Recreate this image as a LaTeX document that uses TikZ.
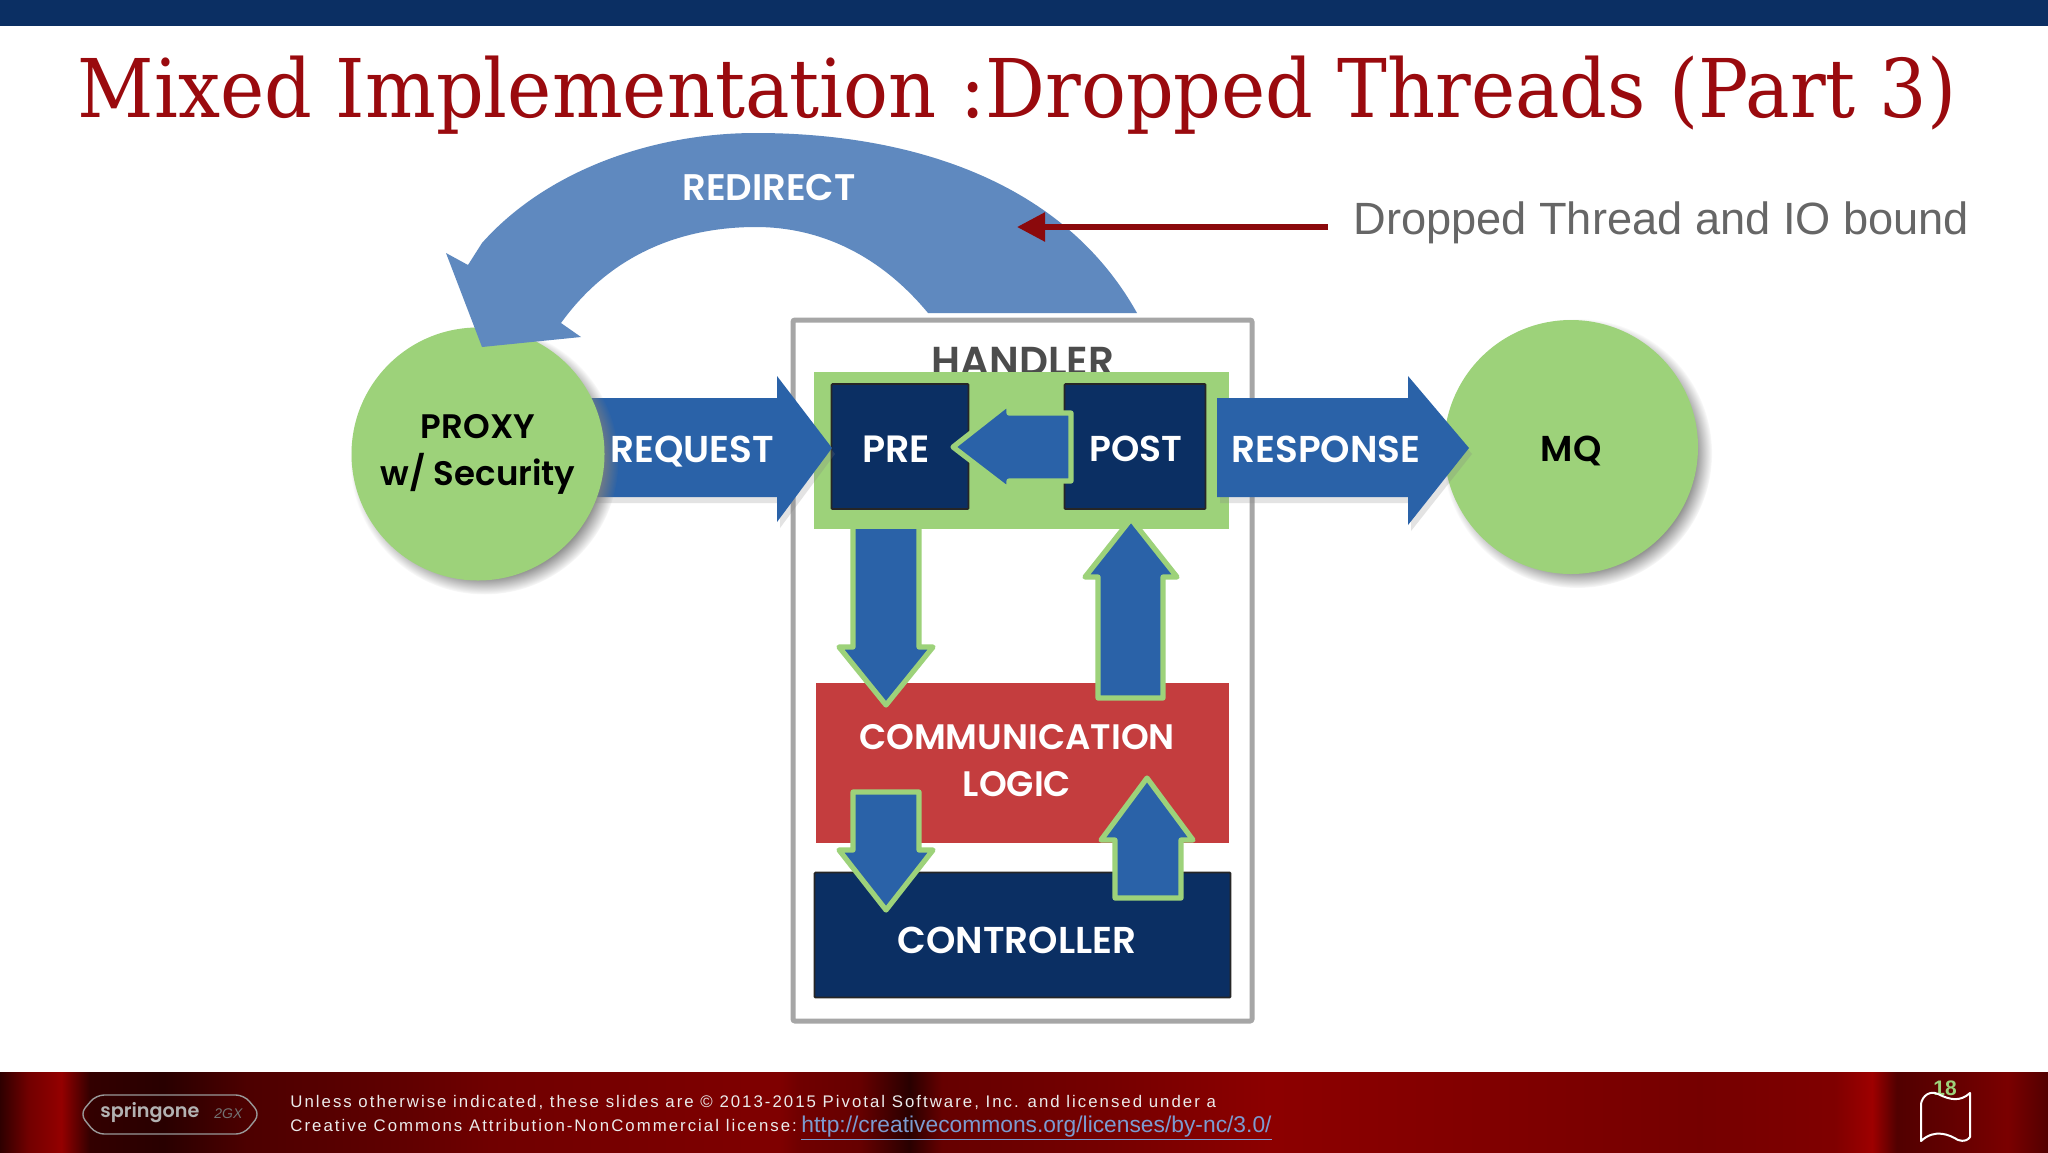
\documentclass[tikz,border=0pt]{standalone}
\usepackage{fontspec}
\setmainfont{Liberation Sans}
\newfontfamily\titlefont{DejaVu Serif}
\newfontfamily\labelfont{Poppins}[BoldFont=* SemiBold]
\newfontfamily\footfont{Liberation Sans}[LetterSpace=12]
\usetikzlibrary{shadows,arrows.meta}
\definecolor{navybar}{HTML}{0B2F63}
\definecolor{titlered}{HTML}{9A0A0E}
\definecolor{flowblue}{HTML}{2A62A8}
\definecolor{softblue}{HTML}{5F89BF}
\definecolor{leafgreen}{HTML}{9DD27A}
\definecolor{logicred}{HTML}{C43D3E}
\definecolor{linkblue}{HTML}{7C9BD0}
\newcommand{\lblfont}[1]{\labelfont\bfseries\fontsize{#1}{23.5}\selectfont}
\pgfdeclarehorizontalshading{curtain}{100bp}{
  color(0bp)=(red!18!black);
  color(25bp)=(red!18!black);
  color(25.7bp)=(red!45!black);
  color(26.5bp)=(red!58!black);
  color(27.2bp)=(red!20!black);
  color(29bp)=(red!16!black);
  color(31bp)=(red!30!black);
  color(35bp)=(red!38!black);
  color(37bp)=(red!44!black);
  color(44bp)=(red!50!black);
  color(44.5bp)=(red!44!black);
  color(46bp)=(red!40!black);
  color(47.2bp)=(red!16!black);
  color(48bp)=(red!40!black);
  color(52bp)=(red!46!black);
  color(56bp)=(red!55!black);
  color(66.5bp)=(red!46!black);
  color(69.8bp)=(red!50!black);
  color(70.7bp)=(red!62!black);
  color(71.3bp)=(red!32!black);
  color(72.5bp)=(red!38!black);
  color(74bp)=(red!48!black);
  color(75bp)=(red!32!black);
  color(100bp)=(red!32!black)
}
\begin{document}
\begin{tikzpicture}[x=0.5pt,y=-0.5pt,
    flowarrow/.style={fill=flowblue,draw=none,drop shadow={shadow xshift=1.5pt,shadow yshift=-3pt,opacity=.22}},
    edgearrow/.style={fill=flowblue,draw=leafgreen,line width=2.6pt,line join=round},
    hub/.style={circle,fill=leafgreen,inner sep=0pt,align=center,
      circular drop shadow={shadow xshift=3pt,shadow yshift=-3pt,shadow scale=1.06}},
    navybox/.style={fill=navybar,draw=black!85,line width=0.9pt,rounded corners=0.5pt,inner sep=0pt},
    whitelabel/.style={text=white,inner sep=0pt,align=center}]
    \useasboundingbox (0,0) rectangle (2048,1152);
    \fill[white] (0,0) rectangle (2048,1152);
    % slide frame
    \fill[navybar] (0,0) rectangle (2048,26);
    \shade[shading=curtain] (0,1072) rectangle (2048,1152);
    \node[text=titlered,font=\titlefont\fontsize{40.5}{44}\selectfont,inner sep=0pt] (title) at (1017,95) {\scalebox{.922}[1]{Mixed Implementation :Dropped Threads (Part 3)}};

    % handler
    \draw[draw=black!35,line width=2.5pt,rounded corners=1pt] (793,320) rectangle (1252,1021);
    \node[text=black!70,font=\lblfont{20.2},inner sep=0pt] (handler) at (1023,361) {HANDLER};
    \fill[leafgreen] (814,372) rectangle (1229,529);
    \node[navybox,minimum width=68.5pt,minimum height=62.5pt] (pre) at (900,446.5) {};
    \node[navybox,minimum width=70.5pt,minimum height=62.5pt] (post) at (1135,446.5) {};
    \fill[logicred] (816,683) rectangle (1229,843);
    \node[navybox,minimum width=208pt,minimum height=62.5pt] (controller) at (1022.5,935) {};

    % inner arrows
    \draw[edgearrow] (1071,413) -- (1009,413) -- (1009,403) -- (953,447) -- (1009,490) -- (1009,481) -- (1071,481) -- cycle;
    \draw[edgearrow] (853,525) -- (919,525) -- (919,647) -- (933,647) -- (886,705) -- (839,647) -- (853,647) -- cycle;
    \draw[edgearrow] (1098,698) -- (1163,698) -- (1163,577) -- (1177,577) -- (1131,519) -- (1085,577) -- (1098,577) -- cycle;
    \draw[edgearrow] (853,792) -- (919,792) -- (919,850) -- (933,850) -- (886,910) -- (839,850) -- (853,850) -- cycle;
    \draw[edgearrow] (1115,898) -- (1181,898) -- (1181,840) -- (1193,840) -- (1147,778) -- (1101,840) -- (1115,840) -- cycle;
    \fill[leafgreen] (850,520) rectangle (922,529);

    % side arrows
    \draw[flowarrow] (590,398) -- (777,398) -- (777,376) -- (832,448) -- (777,522) -- (777,497) -- (590,497) -- cycle;
    \node[hub,minimum size=126.5pt,font=\lblfont{17}] (proxy) at (478,454) {PROXY\\w/ Security};
    \node[hub,minimum size=127pt] (mq) at (1571,447) {};
    \draw[flowarrow] (1217,398) -- (1408,398) -- (1408,376) -- (1469,448) -- (1408,525) -- (1408,497) -- (1217,497) -- cycle;

    % redirect
    \fill[softblue] (1137,313) .. controls (1060,175) and (900,133) .. (756,133) .. controls (650,133) and (545,172) .. (482,243) -- (468,265) -- (446,253) -- (482,347) -- (581,337) -- (561,323) .. controls (610,255) and (680,227) .. (756,227) .. controls (820,227) and (880,255) .. (928,313) -- cycle;

    % labels
    \node[whitelabel,font=\lblfont{18.5}] (redirect) at (769,188) {REDIRECT};
    \node[whitelabel,font=\lblfont{18.7}] (request) at (692,452) {REQUEST};
    \node[whitelabel,font=\lblfont{18.7}] (response) at (1326,449) {RESPONSE};
    \node[whitelabel,font=\lblfont{19}] (prelabel) at (896,449) {PRE};
    \node[whitelabel,font=\lblfont{18}] (postlabel) at (1136,449) {POST};
    \node[font=\lblfont{18},inner sep=0pt] (mqlabel) at (1571,451) {MQ};
    \node[whitelabel,font=\lblfont{17.7}] (logic) at (1017,761) {COMMUNICATION\\LOGIC};
    \node[whitelabel,font=\lblfont{18.7}] (ctrl) at (1017,940) {CONTROLLER};

    % pointer
    \node[text=black!60,font=\fontsize{22.6}{26}\selectfont,inner sep=0pt,anchor=west] (dropped) at (1353,223) {Dropped Thread and IO bound};
    \coordinate (ptrend) at (1017,227);
    \coordinate (ptrstart) at (1328,227);
    \draw[titlered!90!black,line width=2.8pt,-{Triangle[length=14pt,width=14pt]}] (ptrstart) -- (ptrend);

    % footer
    \draw[white!60!black,line width=0.7pt,rounded corners=4pt] (96,1095) -- (244,1095) -- (260,1114) -- (244,1134) -- (96,1134) -- (80,1114) -- cycle;
    \node[text=white!70!black,font=\lblfont{9.6},inner sep=0pt,anchor=west] (spring) at (100,1113) {springone};
    \node[text=white!45!black,font=\itshape\fontsize{7}{9}\selectfont,inner sep=0pt,anchor=west] (gx) at (214,1114) {2GX};
    \node[text=white!92!black,font=\footfont\fontsize{8.4}{12}\selectfont,inner sep=0pt,anchor=base west] (footone) at (290,1107) {Unless otherwise indicated, these slides are © 2013-2015 Pivotal Software, Inc. and licensed under a};
    \node[text=white!92!black,font=\footfont\fontsize{8.4}{12}\selectfont,inner sep=0pt,anchor=base west] (foottwo) at (290,1131) {Creative Commons Attribution-NonCommercial license:};
    \node[text=linkblue,font=\fontsize{11.4}{14}\selectfont,inner sep=0pt,anchor=base west] (link) at (801,1132) {\underline{http://creativecommons.org/licenses/by-nc/3.0/}};
    \node[text=leafgreen,font=\bfseries\fontsize{10.5}{11}\selectfont,inner sep=0pt] (pagenum) at (1945,1088) {18};
    \draw[white,line width=1pt,line join=round] (1921,1141) .. controls (1935,1128) and (1950,1135) .. (1958,1140) .. controls (1964,1142) and (1968,1140) .. (1970,1137) -- (1970,1093) .. controls (1960,1102) and (1950,1100) .. (1938,1094) .. controls (1930,1090) and (1922,1096) .. (1921,1104) -- cycle;
\end{tikzpicture}
\end{document}
